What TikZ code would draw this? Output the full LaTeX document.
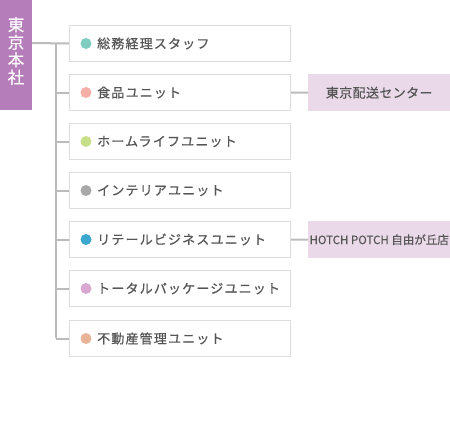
\documentclass[tikz,border=0pt]{standalone}
\usepackage{fontspec}
\setmainfont{Noto Sans CJK JP}
\newfontfamily\jpsp[LetterSpace=9]{Noto Sans CJK JP}
\newfontfamily\jpsub[LetterSpace=3]{Noto Sans CJK JP}
\definecolor{hqpurple}{HTML}{B57DB9}
\definecolor{boxgray}{HTML}{DDDDDD}
\definecolor{linegray}{HTML}{BBBBBB}
\definecolor{txtgray}{HTML}{555555}
\definecolor{subpink}{HTML}{E9D9E9}
\definecolor{dA}{HTML}{7FCDC0}
\definecolor{dB}{HTML}{F6AFA7}
\definecolor{dC}{HTML}{C8DF8A}
\definecolor{dD}{HTML}{A8A8A8}
\definecolor{dE}{HTML}{3AA7CF}
\definecolor{dF}{HTML}{D9A8D0}
\definecolor{dG}{HTML}{E8B397}
\begin{document}
\begin{tikzpicture}[x=1pt,y=-1pt,
  unitbox/.style={draw=boxgray, line width=1pt, fill=white, minimum width=221pt, minimum height=36pt, inner sep=0pt, anchor=north west},
  subbox/.style={fill=subpink, minimum width=142pt, minimum height=37pt, inner sep=0pt, anchor=north west, text=txtgray, font=\jpsub\fontsize{13}{15}\selectfont\addfontfeature{FakeBold=0.4}},
  dotmark/.style={circle, inner sep=0pt, minimum size=11pt},
  unitlabel/.style={anchor=west, inner sep=0pt, text=txtgray, font=\jpsp\fontsize{13}{15}\selectfont\addfontfeature{FakeBold=0.6}},
  conn/.style={draw=linegray, line width=2pt}
]
\useasboundingbox (0,0) rectangle (450,445);
\node[fill=hqpurple, minimum width=32pt, minimum height=110pt, inner sep=0pt, anchor=north west] (hq) at (0,0) {};
\node[text=white, align=center, font=\fontsize{16.5}{17.5}\selectfont\addfontfeature{FakeBold=0.5}, inner sep=0pt] (hqt) at (16,51) {東\\京\\本\\社};

\foreach \i/\y/\c/\t in {1/25/dA/総務経理スタッフ, 2/74/dB/食品ユニット, 3/123/dC/ホームライフユニット, 4/172/dD/インテリアユニット, 5/221/dE/リテールビジネスユニット, 6/270/dF/トータルパッケージユニット, 7/320/dG/不動産管理ユニット}{
  \node[unitbox] (b\i) at (69,\y) {};
  \node[dotmark, fill=\c] (d\i) at ([xshift=17pt]b\i.west) {};
  \node[unitlabel] (l\i) at ([xshift=28pt]b\i.west) {\t};
}

\node[subbox] (r1) at (308,74) {東京配送センター};
\node[subbox, font=\fontsize{11.5}{14}\selectfont\addfontfeature{FakeBold=0.4}] (r2) at (308,221) {HOTCH POTCH 自由が丘店};

\coordinate (hqout) at (32,43);
\coordinate (trunktop) at (56,43);
\coordinate (trunkbot) at (56,338);
\draw[conn] (hqout) -- (b1.west);
\draw[conn] (trunktop) -- (trunkbot);
\foreach \i in {2,...,7}{
  \draw[conn] (trunktop |- b\i.west) -- (b\i.west);
}
\draw[conn] (b2.east) -- (r1.west);
\draw[conn] (b5.east) -- (r2.west);
\end{tikzpicture}
\end{document}
